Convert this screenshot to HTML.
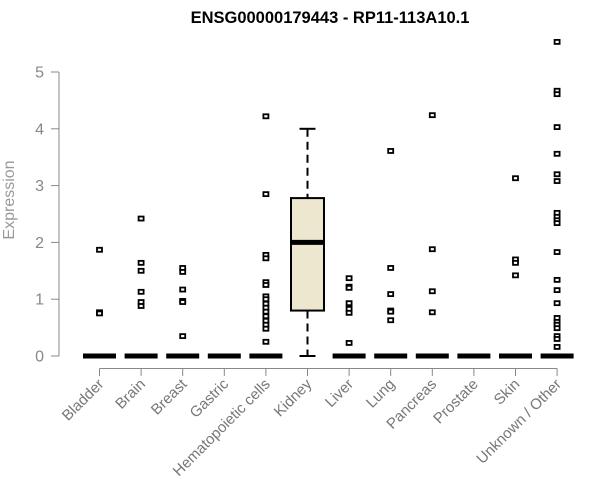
<!DOCTYPE html>
<html><head><meta charset="utf-8"><style>
body{margin:0;background:#fff;}
svg{display:block;font-family:"Liberation Sans",Arial,sans-serif;}
</style></head><body>
<svg id="chart" width="600" height="500" viewBox="0 0 600 500">
<rect width="600" height="500" fill="#fff"/>
<text x="330" y="23" text-anchor="middle" font-weight="bold" font-size="16.5" fill="#000">ENSG00000179443 - RP11-113A10.1</text>
<text transform="translate(14,200) rotate(-90)" text-anchor="middle" font-size="16" fill="#999">Expression</text>
<g id="g"></g>
</svg>
<script>
const categories=["Bladder","Brain","Breast","Gastric","Hematopoietic cells","Kidney","Liver","Lung","Pancreas","Prostate","Skin","Unknown / Other"];
const q1=[0,0,0,0,0,0.8,0,0,0,0,0,0];
const median=[0,0,0,0,0,2.0,0,0,0,0,0,0];
const q3=[0,0,0,0,0,2.78,0,0,0,0,0,0];
const whiskerLow=[0,0,0,0,0,0,0,0,0,0,0,0];
const whiskerHigh=[0,0,0,0,0,4.0,0,0,0,0,0,0];
const outliers=[
[1.87,0.77,0.75],
[2.42,1.64,1.5,1.13,0.95,0.88],
[1.55,1.48,1.17,0.97,0.95,0.35],
[],
[4.22,2.85,1.78,1.72,1.3,1.25,1.05,1.0,0.92,0.85,0.78,0.7,0.62,0.55,0.48,0.25],
[],
[1.37,1.22,1.2,0.93,0.83,0.76,0.23],
[3.61,1.55,1.09,0.8,0.78,0.63],
[4.24,1.88,1.14,0.77],
[],
[3.13,1.7,1.64,1.42],
[5.53,4.67,4.61,4.03,3.56,3.2,3.08,2.52,2.45,2.39,2.34,1.83,1.34,1.16,0.93,0.67,0.6,0.55,0.49,0.35,0.3,0.16]
];
const yTicks=[0,1,2,3,4,5];
const NS="http://www.w3.org/2000/svg";
const g=document.getElementById("g");
const y=v=>356-v*56.8;
const x=i=>99.5+i*41.6;
function mk(t,a){const e=document.createElementNS(NS,t);for(const k in a)e.setAttribute(k,a[k]);g.appendChild(e);return e;}
let ax=mk("line",{x1:59,x2:59,y1:y(0),y2:y(5),stroke:"#888","stroke-width":1});


yTicks.forEach(t=>{
 const l=mk("line",{x1:51,x2:59,y1:y(t),y2:y(t),stroke:"#888"});
 
 
 const tx=mk("text",{x:44,y:y(t)+5.5,"text-anchor":"end","font-size":16,fill:"#888"});
 tx.textContent=t;
 
 
});
let xa=mk("line",{x1:x(0),x2:x(categories.length-1),y1:368.5,y2:368.5,stroke:"#888"});


categories.forEach((c,i)=>{
 const cx=x(i);
 const t=mk("line",{x1:cx,x2:cx,y1:368.5,y2:376,stroke:"#888"});
 
 
 const lb=mk("text",{transform:`translate(${cx+5},385) rotate(-45)`,"text-anchor":"end","font-size":15,fill:"#777"});
 lb.textContent=c;
 
 
 const hw=16.5;
 if(q3[i]>q1[i]){
  const wl=mk("line",{x1:cx,x2:cx,y1:y(whiskerHigh[i]),y2:y(q3[i]),stroke:"#000","stroke-width":2,"stroke-dasharray":"8,5"});
  
  
  const wl2=mk("line",{x1:cx,x2:cx,y1:y(q1[i]),y2:y(whiskerLow[i]),stroke:"#000","stroke-width":2,"stroke-dasharray":"8,5"});
  
  
  [whiskerHigh[i],whiskerLow[i]].forEach(v=>{
   const cp=mk("line",{x1:cx-8,x2:cx+8,y1:y(v),y2:y(v),stroke:"#000","stroke-width":2});
   
   
  });
  const b=mk("rect",{x:cx-hw,y:y(q3[i]),width:hw*2,height:y(q1[i])-y(q3[i]),fill:"#ede7cf",stroke:"#000","stroke-width":2});
  
  
 }
 const m=mk("line",{x1:cx-hw,x2:cx+hw,y1:y(median[i]),y2:y(median[i]),stroke:"#000","stroke-width":5});
 
 
 outliers[i].forEach(v=>{
  const p=mk("rect",{x:cx-2.5,y:y(v)-2,width:5,height:4,fill:"#fff",stroke:"#000","stroke-width":1.8});
  
  
 });
});
</script>
</body></html>
